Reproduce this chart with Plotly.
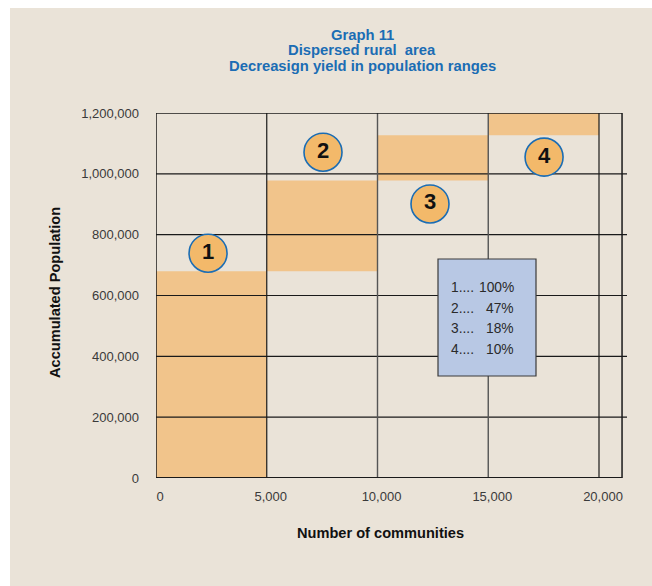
import plotly.graph_objects as go

# Population ranges: community-count bands and accumulated population
band_start = [0, 5000, 10000, 15000]
band_width = [5000, 5000, 5000, 5000]
accumulated = [680000, 978000, 1127000, 1200000]
range_ids = ["1", "2", "3", "4"]

# Badge positions for the numbered ranges
badge_x = [2350, 7540, 12370, 17520]
badge_y = [739000, 1071000, 901000, 1055000]

# Yield per range
yield_labels = ["1....", "2....", "3....", "4...."]
yield_pct = ["100%", "47%", "18%", "10%"]

x_ticks = [0, 5000, 10000, 15000, 20000]
y_ticks = [0, 200000, 400000, 600000, 800000, 1000000, 1200000]

title_lines = ["Graph 11", "Dispersed rural  area", "Decreasign yield in population ranges"]

BG = "#EAE3D8"
BAR = "#F1C48B"
BADGE = "#F3B96A"
BLUE = "#1B6DB4"
FONT = "Liberation Sans, Arial, Helvetica, sans-serif"

X_MAX = 21264
X_FRAME = 21040

bases = [0] + accumulated[:-1]
heights = [a - b for a, b in zip(accumulated, bases)]

fig = go.Figure()

fig.add_trace(go.Bar(
    x=[s + w / 2 for s, w in zip(band_start, band_width)],
    y=heights,
    base=bases,
    width=band_width,
    marker=dict(color=BAR, line=dict(width=0)),
    hoverinfo="skip",
))

# Horizontal grid lines (drawn over the bars)
for yv in y_ticks[1:-1]:
    fig.add_trace(go.Scatter(
        x=[0, X_MAX], y=[yv, yv], mode="lines",
        line=dict(color="#1a1a1a", width=1.2), hoverinfo="skip",
    ))

# Vertical grid lines
for xv in x_ticks[1:]:
    dark = xv in (5000, 20000)
    fig.add_trace(go.Scatter(
        x=[xv, xv], y=[0, y_ticks[-1]], mode="lines",
        line=dict(color="#1a1a1a" if dark else "#555555", width=1.2 if dark else 1.4),
        hoverinfo="skip",
    ))

# Numbered badges
fig.add_trace(go.Scatter(
    x=badge_x, y=badge_y, mode="markers+text",
    text=range_ids, textposition="middle center",
    textfont=dict(family=FONT, size=22, color="#111111", weight="bold"),
    marker=dict(size=38, color=BADGE, line=dict(color=BLUE, width=1.6)),
    hoverinfo="skip",
))

PL, PR, PT, PB = 156, 627, 113, 478
W, H = 652, 586


def px_x(p):
    return (p - PL) / (PR - PL)


def px_y(p):
    return (PB - p) / (PB - PT)


shapes = [
    # white page edges
    dict(type="rect", xref="paper", yref="paper", x0=px_x(0), x1=px_x(10),
         y0=px_y(H), y1=px_y(0), fillcolor="white", line=dict(width=0), layer="below"),
    dict(type="rect", xref="paper", yref="paper", x0=px_x(0), x1=px_x(W),
         y0=px_y(8), y1=px_y(0), fillcolor="white", line=dict(width=0), layer="below"),
    # frame
    dict(type="line", xref="x", yref="y", x0=0, x1=X_FRAME, y0=y_ticks[-1], y1=y_ticks[-1],
         line=dict(color="#1a1a1a", width=1.5), layer="above"),
    dict(type="line", xref="x", yref="y", x0=X_FRAME, x1=X_FRAME, y0=0, y1=y_ticks[-1],
         line=dict(color="#1a1a1a", width=1.5), layer="above"),
    dict(type="line", xref="x", yref="y", x0=0, x1=X_FRAME, y0=0, y1=0,
         line=dict(color="#1a1a1a", width=2), layer="above"),
    dict(type="line", xref="x", yref="y", x0=0, x1=0, y0=0, y1=y_ticks[-1],
         line=dict(color="#1a1a1a", width=1.5), layer="above"),
    # yield box
    dict(type="rect", xref="paper", yref="paper", x0=px_x(438), x1=px_x(536),
         y0=px_y(376), y1=px_y(259), fillcolor="#B8C8E4",
         line=dict(color="#3a3a3a", width=1.2), layer="above"),
]

annotations = []
for line, ty in zip(title_lines, [35, 50.5, 66]):
    annotations.append(dict(xref="paper", yref="paper", x=px_x(362), y=px_y(ty),
                            xanchor="center", yanchor="middle", text=f"<b>{line}</b>",
                            showarrow=False, font=dict(family=FONT, size=14.8, color=BLUE)))

annotations += [
    dict(xref="paper", yref="paper", x=px_x(55), y=px_y(293), xanchor="center", yanchor="middle",
         text="<b>Accumulated Population</b>", textangle=-90, showarrow=False,
         font=dict(family=FONT, size=14.6, color="#111111")),
    dict(xref="paper", yref="paper", x=px_x(380), y=px_y(533), xanchor="center", yanchor="middle",
         text="<b>Number of communities</b>", showarrow=False,
         font=dict(family=FONT, size=14.6, color="#111111")),
]

row_y = [287, 308, 328, 349]
for lab, pct, ry in zip(yield_labels, yield_pct, row_y):
    annotations.append(dict(xref="paper", yref="paper", x=px_x(449), y=px_y(ry),
                            xanchor="left", yanchor="middle", text=lab, showarrow=False,
                            font=dict(family=FONT, size=13.8, color="#2a2a2a")))
    annotations.append(dict(xref="paper", yref="paper", x=px_x(516), y=px_y(ry),
                            xanchor="right", yanchor="middle", text=pct, showarrow=False,
                            font=dict(family=FONT, size=13.8, color="#2a2a2a")))

fig.update_layout(
    width=W, height=H,
    margin=dict(l=PL, r=W - PR, t=PT, b=H - PB),
    paper_bgcolor=BG, plot_bgcolor=BG,
    showlegend=False,
    shapes=shapes,
    annotations=annotations,
    xaxis=dict(range=[0, X_MAX], showgrid=False, zeroline=False, showline=False,
               tickvals=x_ticks, ticktext=[f"{v:,}" for v in x_ticks],
               ticks="", ticklabelstandoff=9, ticklabelshift=4,
               tickfont=dict(family=FONT, size=13, color="#3a3a3a")),
    yaxis=dict(range=[0, y_ticks[-1]], showgrid=False, zeroline=False, showline=False,
               tickvals=y_ticks, ticktext=[f"{v:,}" for v in y_ticks],
               ticks="", ticklabelstandoff=16,
               tickfont=dict(family=FONT, size=13, color="#3a3a3a")),
)

fig.write_html("out.html")
